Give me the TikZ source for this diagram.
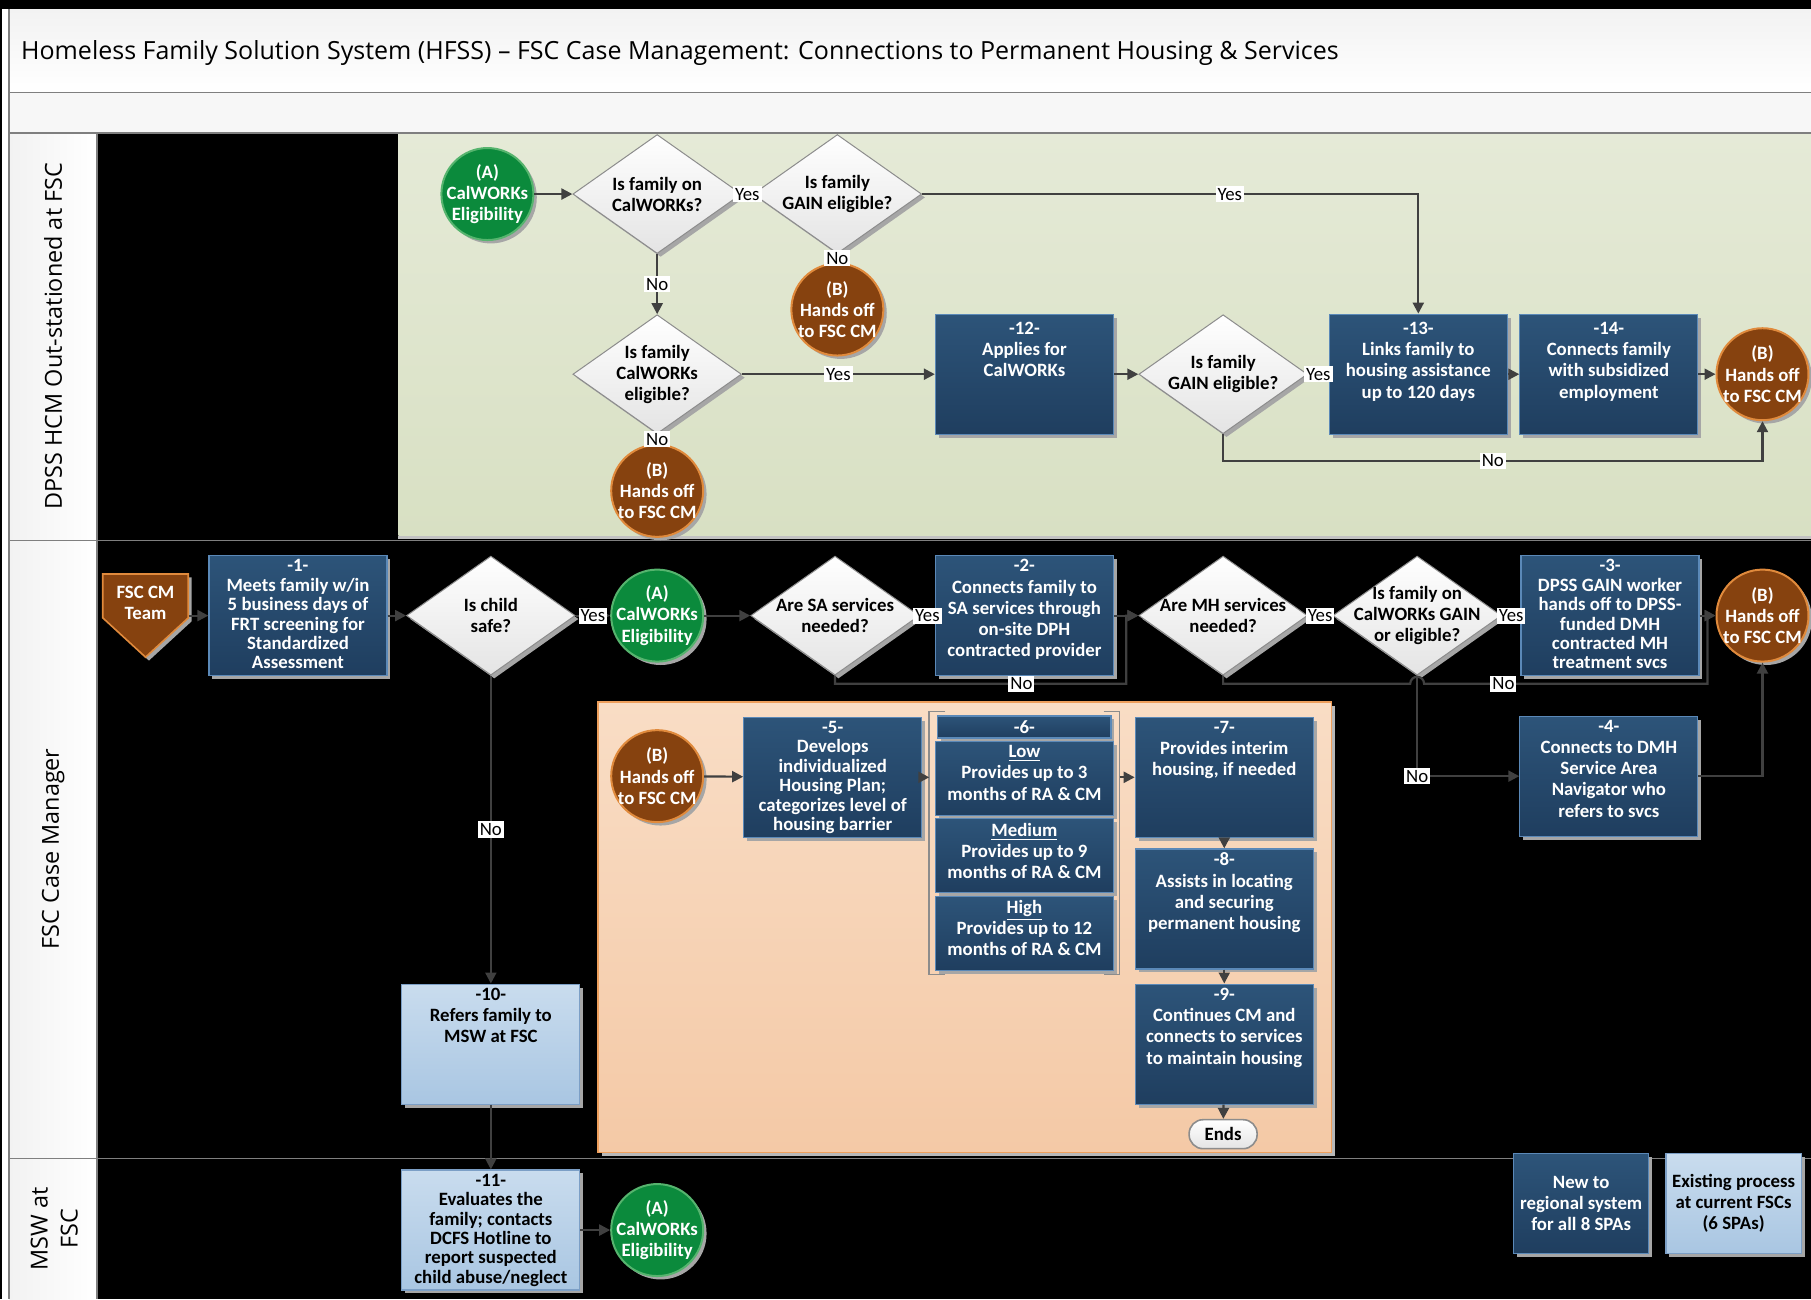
\documentclass[tikz,border=0pt]{standalone}
\usepackage{fontspec}
\setmainfont{Carlito}
\newfontfamily\headfont{Open Sans}
\usetikzlibrary{shapes.geometric,arrows.meta,shadows,calc,fit}

\definecolor{navytop}{HTML}{2D5479}
\definecolor{navybot}{HTML}{1F3E5F}
\definecolor{navyline}{HTML}{5B89B8}
\definecolor{lbtop}{HTML}{C9DCEE}
\definecolor{lbbot}{HTML}{A9C6E2}
\definecolor{lbline}{HTML}{7C9FC6}
\definecolor{greenfill}{HTML}{0B8A3C}
\definecolor{greenrim}{HTML}{56B46E}
\definecolor{brownfill}{HTML}{86420F}
\definecolor{brownrim}{HTML}{E08A3C}
\definecolor{sagetop}{HTML}{E5EAD7}
\definecolor{sagebot}{HTML}{D8E0C3}
\definecolor{peachtop}{HTML}{F9DDC5}
\definecolor{peachbot}{HTML}{F4C9A6}
\definecolor{peachrim}{HTML}{EE9F5C}
\definecolor{qbot}{HTML}{E4E4E4}
\definecolor{qline}{HTML}{8C8C8C}
\definecolor{shadowgrey}{HTML}{A6A6A6}
\definecolor{arrowgrey}{HTML}{404040}
\definecolor{bandgrey}{HTML}{F2F2F2}
\definecolor{rulegrey}{HTML}{7F7F7F}

% text of a process box, top aligned
\newcommand\steptext[2][56pt]{\parbox[c][#1][t]{85pt}{\centering #2}}

\tikzset{
  shade/.style={general shadow={fill=shadowgrey, shadow xshift=1.7pt, shadow yshift=-1.7pt}},
  box/.style={rectangle, draw=navyline, line width=0.6pt, top color=navytop, bottom color=navybot,
    text=white, font=\bfseries\fontsize{9.4}{10.6}\selectfont,
    minimum width=86.6pt, minimum height=60pt, inner sep=2pt, shade},
  dense/.style={font=\bfseries\fontsize{9.4}{9.7}\selectfont},
  oldbox/.style={box, draw=lbline, top color=lbtop, bottom color=lbbot, text=black},
  qtext/.style={align=center, text=black, font=\bfseries\fontsize{9.4}{10.5}\selectfont},
  question/.style={diamond, draw=qline, line width=0.5pt, top color=white, bottom color=qbot,
    minimum width=84.3pt, minimum height=59.5pt, inner sep=0pt, shade, label={[qtext]center:#1}},
  ctext/.style={align=center, text=white, font=\bfseries\fontsize{9.4}{10.6}\selectfont},
  calw/.style={circle, draw=greenrim, line width=1pt, fill=greenfill, minimum size=46pt,
    inner sep=0pt, shade, label={[ctext]center:(A)\\CalWORKs\\Eligibility}},
  handoff/.style={circle, draw=brownrim, line width=1pt, fill=brownfill, minimum size=46pt,
    inner sep=0pt, shade, label={[ctext]center:(B)\\Hands off\\to FSC CM}},
  yn/.style={fill=white, text=black, inner sep=1pt, font=\fontsize{9.4}{10}\selectfont},
  flow/.style={draw=arrowgrey, line width=1.1pt, -{Triangle[length=5.5pt,width=5.5pt]}},
  lanetext/.style={rotate=90, align=center, font=\headfont\fontsize{11.7}{15}\selectfont},
  bracket/.style={draw=qline, line width=0.8pt}
}

\begin{document}
\begin{tikzpicture}[x=0.5775pt, y=-0.5775pt]
    \useasboundingbox (0,0) rectangle (1568,1125);

    % frame and header bands
    \fill[white] (0,0) rectangle (1568,1125);
    \fill[black] (0,0) rectangle (1568,8);
    \fill[black] (0,0) rectangle (2,1125);
    \fill[top color=bandgrey, bottom color=white] (8,8) rectangle (1568,80);
    \fill[bandgrey!60] (8,80) rectangle (1568,115);
    \node[anchor=west, inner sep=0pt, font=\headfont\fontsize{12.5}{15}\selectfont] (title) at (18,46)
        {Homeless Family Solution System (HFSS) – FSC Case Management: Connections to Permanent Housing \& Services};

    % lane column and lane contents
    \fill[left color=bandgrey, right color=white] (8,115) rectangle (84,1125);
    \fill[black] (84,115) rectangle (1568,1125);
    \fill[top color=sagetop, bottom color=sagebot] (345,115) rectangle (1568,464);
    \fill[shadowgrey!70] (345,464) rectangle (1568,467);
    \draw[rulegrey, line width=0.8pt] (8,8) -- (8,1125);
    \draw[rulegrey, line width=0.8pt] (8,80) -- (1568,80);
    \draw[rulegrey, line width=0.8pt] (8,115) -- (1568,115);
    \draw[rulegrey, line width=0.8pt] (8,468) -- (1568,468);
    \draw[rulegrey, line width=0.8pt] (8,1003) -- (1568,1003);
    \draw[rulegrey, line width=0.8pt] (84,115) -- (84,1125);
    \node[lanetext] (lane1) at (46,291) {DPSS HCM Out-stationed at FSC};
    \node[lanetext] (lane2) at (46,735) {FSC Case Manager};
    \node[lanetext] (lane3) at (47,1064) {MSW at\\FSC};

    % housing plan area
    \fill[shadowgrey!80] (521,611) rectangle (1156,1001);
    \draw[peachrim, line width=0.8pt, top color=peachtop, bottom color=peachbot] (518,608) rectangle (1153,998);

    % DPSS lane
    \node[calw] (ca1) at (422,168) {};
    \node[question={Is family on\\CalWORKs?}] (q1) at (569,168) {};
    \node[question={Is family\\GAIN eligible?}] (q2) at (725,168) {};
    \node[handoff] (cb1) at (725,268) {};
    \node[question={Is family\\CalWORKs\\eligible?}] (q3) at (569,324) {};
    \node[handoff] (cb2) at (569,425) {};
    \node[box] (s12) at (887,324) {\steptext{\vspace{2pt}-12-\\Applies for\\CalWORKs}};
    \node[question={Is family\\GAIN eligible?}] (q4) at (1059,324) {};
    \node[box] (s13) at (1228,324) {\steptext{\vspace{2pt}-13-\\Links family to\\housing assistance\\up to 120 days}};
    \node[box] (s14) at (1393,324) {\steptext{\vspace{2pt}-14-\\Connects family\\with subsidized\\employment}};
    \node[handoff] (cb3) at (1526,324) {};

    % case manager lane
    \draw[fill=brownfill, draw=brownrim, line width=0.8pt, shade]
        (89,497) -- (163,497) -- (163,535) -- (126,569) -- (89,535) -- cycle;
    \node[align=center, text=white, minimum width=42.7pt, inner sep=0pt,
        font=\bfseries\fontsize{9.4}{10.6}\selectfont] (team) at (126,522) {FSC CM\\Team};
    \node[box, dense] (s1) at (258,533) {\steptext{-1-\\Meets family w/in\\5 business days of\\FRT screening for\\Standardized\\Assessment}};
    \node[question={Is child\\safe?}] (q5) at (425,533) {};
    \node[calw] (ca2) at (569,533) {};
    \node[question={Are SA services\\needed?}] (q6) at (723,533) {};
    \node[box] (s2) at (887,533) {\steptext{-2-\\Connects family to\\SA services through\\on-site DPH\\contracted provider}};
    \node[question={Are MH services\\needed?}] (q7) at (1059,533) {};
    \node[question={Is family on\\CalWORKs GAIN\\or eligible?}] (q8) at (1227,533) {};
    \node[box, dense] (s3) at (1394,533) {\steptext{-3-\\DPSS GAIN worker\\hands off to DPSS-\\funded DMH\\contracted MH\\treatment svcs}};
    \node[handoff] (cb4) at (1526,533) {};
    \node[box] (s4) at (1393,672) {\steptext{-4-\\Connects to DMH\\Service Area\\Navigator who\\refers to svcs}};
    \node[oldbox] (s10) at (425,904) {\steptext{-10-\\Refers family to\\MSW at FSC}};

    % housing plan steps
    \node[handoff] (cb5) at (569,672) {};
    \node[box, dense] (s5) at (721,673) {\steptext{-5-\\Develops\\individualized\\Housing Plan;\\categorizes level of\\housing barrier}};
    \node[box, minimum height=11pt, inner sep=0pt] (s6h) at (887,629.5) {-6-};
    \node[box, minimum height=37pt] (s6a) at (887,674) {\steptext[33pt]{\underline{Low}\\Provides up to 3\\months of RA \& CM}};
    \node[box, minimum height=37pt] (s6b) at (887,741) {\steptext[33pt]{\underline{Medium}\\Provides up to 9\\months of RA \& CM}};
    \node[box, minimum height=37pt] (s6c) at (887,808) {\steptext[33pt]{\underline{High}\\Provides up to 12\\months of RA \& CM}};
    \node[fit=(s6h)(s6c), inner xsep=2.6pt, inner ysep=1.7pt] (g6) {};
    \draw[bracket] ([xshift=8pt]g6.north west) -- (g6.north west) -- (g6.south west) -- ++(8pt,0);
    \draw[bracket] ([xshift=-8pt]g6.north east) -- (g6.north east) -- (g6.south east) -- ++(-8pt,0);
    \node[box] (s7) at (1060,673) {\steptext{-7-\\Provides interim\\housing, if needed}};
    \node[box] (s8) at (1060,787) {\steptext{-8-\\Assists in locating\\and securing\\permanent housing}};
    \node[box] (s9) at (1060,904) {\steptext{-9-\\Continues CM and\\connects to services\\to maintain housing}};
    \node[rectangle, rounded corners=7pt, draw=qline, line width=0.8pt, top color=white, bottom color=qbot,
        minimum width=34pt, minimum height=14.5pt, inner sep=0pt,
        font=\bfseries\fontsize{9.4}{10}\selectfont] (ends) at (1059,982) {Ends};

    % MSW lane
    \node[oldbox, dense] (s11) at (425,1065) {\steptext{-11-\\Evaluates the\\family; contacts\\DCFS Hotline to\\report suspected\\child abuse/neglect}};
    \node[calw] (ca3) at (569,1065) {};

    % legend
    \node[box, align=center, minimum width=67.6pt, minimum height=49.7pt] (leg1) at (1369,1042) {New to\\regional system\\for all 8 SPAs};
    \node[oldbox, align=center, minimum width=67.6pt, minimum height=49.7pt] (leg2) at (1501,1042) {Existing process\\at current FSCs\\(6 SPAs)};

    % DPSS lane arrows
    \draw[flow] (ca1) -- (q1);
    \draw[flow] (q1) -- node[yn]{Yes} (q2);
    \draw[flow] (q2) -- node[yn]{No} (cb1);
    \draw[flow] (q2.east) -| node[yn, pos=.31]{Yes} (s13.north);
    \draw[flow] (q1) -- node[yn]{No} (q3);
    \draw[flow] (q3) -- node[yn]{Yes} (s12);
    \draw[flow] (q3) -- node[yn]{No} (cb2);
    \draw[flow] (s12) -- (q4);
    \draw[flow] (q4) -- node[yn]{Yes} (s13);
    \draw[flow] (s13) -- (s14);
    \draw[flow] (s14) -- (cb3);
    \draw[flow] (q4.south) -- ++(0,23) -| node[yn, pos=.25]{No} (cb3.south);

    % case manager lane arrows
    \coordinate (j1) at ($(s2.east)!.5!(q7.west)$);
    \coordinate (j2) at ($(s3.east)!.5!(cb4.west)$);
    \draw[flow] (team.east |- s1) -- (s1);
    \draw[flow] (s1) -- (q5);
    \draw[flow] (q5) -- node[yn]{Yes} (ca2);
    \draw[flow] (ca2) -- (q6);
    \draw[flow] (q6) -- node[yn]{Yes} (s2);
    \draw[flow] (s2) -- (q7);
    \draw[flow] (q6.south) -- ++(0,7) -| node[yn, pos=.32]{No} (j1) -- (q7);
    \draw[flow] (q7) -- node[yn]{Yes} (q8);
    \draw[flow] (q8) -- node[yn]{Yes} (s3);
    \draw[flow] (s3) -- (cb4);
    % no from MH, hopping over the GAIN line
    \draw[flow] (q7.south) -- ++(0,7) -- ($(q8.south)+(-6,7)$) arc[start angle=180, end angle=360, radius=6]
        -| node[yn, pos=.14]{No} (j2) -- (cb4);
    \draw[flow] (q8.south) |- node[yn]{No} (s4.west);
    \draw[flow] (s4.east) -| (cb4.south);
    \draw[flow] (q5) -- node[yn]{No} (s10);

    % housing plan arrows
    \draw[flow] (cb5) -- (s5);
    \draw[flow] (s5.east) -- (s5.east -| g6.west);
    \draw[flow] (g6.east |- s7.west) -- (s7.west);
    \draw[flow] (s7) -- (s8);
    \draw[flow] (s8) -- (s9);
    \draw[flow] (s9) -- (ends);

    % MSW lane arrows
    \draw[flow] (s10) -- (s11);
    \draw[flow] (s11) -- (ca3);
\end{tikzpicture}
\end{document}
